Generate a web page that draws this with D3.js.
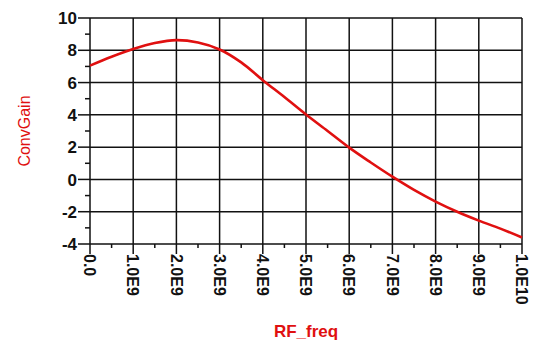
<!DOCTYPE html>
<html><head><meta charset="utf-8">
<script src="https://cdn.jsdelivr.net/npm/d3@7"></script>
<style>body{margin:0;background:#fff}</style>
</head><body>
<svg id="c" width="539" height="348"></svg>
<script>
const freq = [0, 0.5e9, 1e9, 1.5e9, 2e9, 2.5e9, 3e9, 3.5e9, 4e9, 4.5e9, 5e9, 5.5e9, 6e9, 6.5e9, 7e9, 7.5e9, 8e9, 8.5e9, 9e9, 9.5e9, 1e10];
const convGain = [7.05, 7.6, 8.08, 8.45, 8.63, 8.48, 8.05, 7.25, 6.15, 5.1, 4.02, 3.0, 1.97, 1.05, 0.17, -0.65, -1.37, -2.0, -2.55, -3.05, -3.6];
const xTicks = [0, 1e9, 2e9, 3e9, 4e9, 5e9, 6e9, 7e9, 8e9, 9e9, 1e10];
const xTickLabels = ["0.0", "1.0E9", "2.0E9", "3.0E9", "4.0E9", "5.0E9", "6.0E9", "7.0E9", "8.0E9", "9.0E9", "1.0E10"];
const yTicks = [-4, -2, 0, 2, 4, 6, 8, 10];
const yMinor = [-3, -1, 1, 3, 5, 7, 9];
const xMinor = [0.5e9, 1.5e9, 2.5e9, 3.5e9, 4.5e9, 5.5e9, 6.5e9, 7.5e9, 8.5e9, 9.5e9];

const svg = d3.select("#c");
const L = 90, R = 522, T = 18, B = 244;
const x = d3.scaleLinear().domain([0, 1e10]).range([L, R]);
const y = d3.scaleLinear().domain([-4, 10]).range([B, T]);

const g = svg.append("g");
g.selectAll(".vg").data(xTicks).join("line")
  .attr("x1", d => x(d)).attr("x2", d => x(d)).attr("y1", T).attr("y2", B)
  .attr("stroke", "#111").attr("stroke-width", 1.5);
g.selectAll(".hg").data(yTicks).join("line")
  .attr("x1", L).attr("x2", R).attr("y1", d => y(d)).attr("y2", d => y(d))
  .attr("stroke", "#111").attr("stroke-width", 1.5);

g.selectAll(".yt").data(yTicks).join("line")
  .attr("x1", L - 12).attr("x2", L).attr("y1", d => y(d)).attr("y2", d => y(d))
  .attr("stroke", "#111").attr("stroke-width", 1.5);
g.selectAll(".ym").data(yMinor).join("line")
  .attr("x1", L - 5).attr("x2", L).attr("y1", d => y(d)).attr("y2", d => y(d))
  .attr("stroke", "#111").attr("stroke-width", 1.5);
g.selectAll(".xt").data(xTicks).join("line")
  .attr("x1", d => x(d)).attr("x2", d => x(d)).attr("y1", B).attr("y2", B + 10)
  .attr("stroke", "#111").attr("stroke-width", 1.5);
g.selectAll(".xm").data(xMinor).join("line")
  .attr("x1", d => x(d)).attr("x2", d => x(d)).attr("y1", B).attr("y2", B + 4)
  .attr("stroke", "#111").attr("stroke-width", 1.5);

svg.selectAll(".yl").data(yTicks).join("text")
  .attr("x", L - 13).attr("y", d => y(d)).attr("dy", "0.36em")
  .attr("text-anchor", "end")
  .attr("font-family", "Liberation Sans, Arial, sans-serif")
  .attr("font-weight", "bold").attr("font-size", 17).attr("fill", "#111")
  .text(d => d);

svg.selectAll(".xl").data(xTicks).join("text")
  .attr("transform", d => `translate(${x(d)},${B + 10}) rotate(90)`)
  .attr("dy", "0.36em")
  .attr("text-anchor", "start")
  .attr("font-family", "Liberation Sans, Arial, sans-serif")
  .attr("font-weight", "bold").attr("font-size", 16).attr("fill", "#111")
  .text((d, i) => xTickLabels[i]);

const line = d3.line().x((d, i) => x(freq[i])).y(d => y(d)).curve(d3.curveCatmullRom);
svg.append("path").datum(convGain).attr("d", line)
  .attr("fill", "none").attr("stroke", "#e01010").attr("stroke-width", 2.6);

svg.append("text")
  .attr("transform", `translate(30,${(T + B) / 2}) rotate(-90)`)
  .attr("text-anchor", "middle")
  .attr("font-family", "Liberation Sans, Arial, sans-serif")
  .attr("font-size", 16).attr("fill", "#e01010")
  .text("ConvGain");
svg.append("text")
  .attr("x", (L + R) / 2).attr("y", 337)
  .attr("text-anchor", "middle")
  .attr("font-family", "Liberation Sans, Arial, sans-serif")
  .attr("font-weight", "bold").attr("font-size", 17).attr("fill", "#e01010")
  .text("RF_freq");
</script>
</body></html>
